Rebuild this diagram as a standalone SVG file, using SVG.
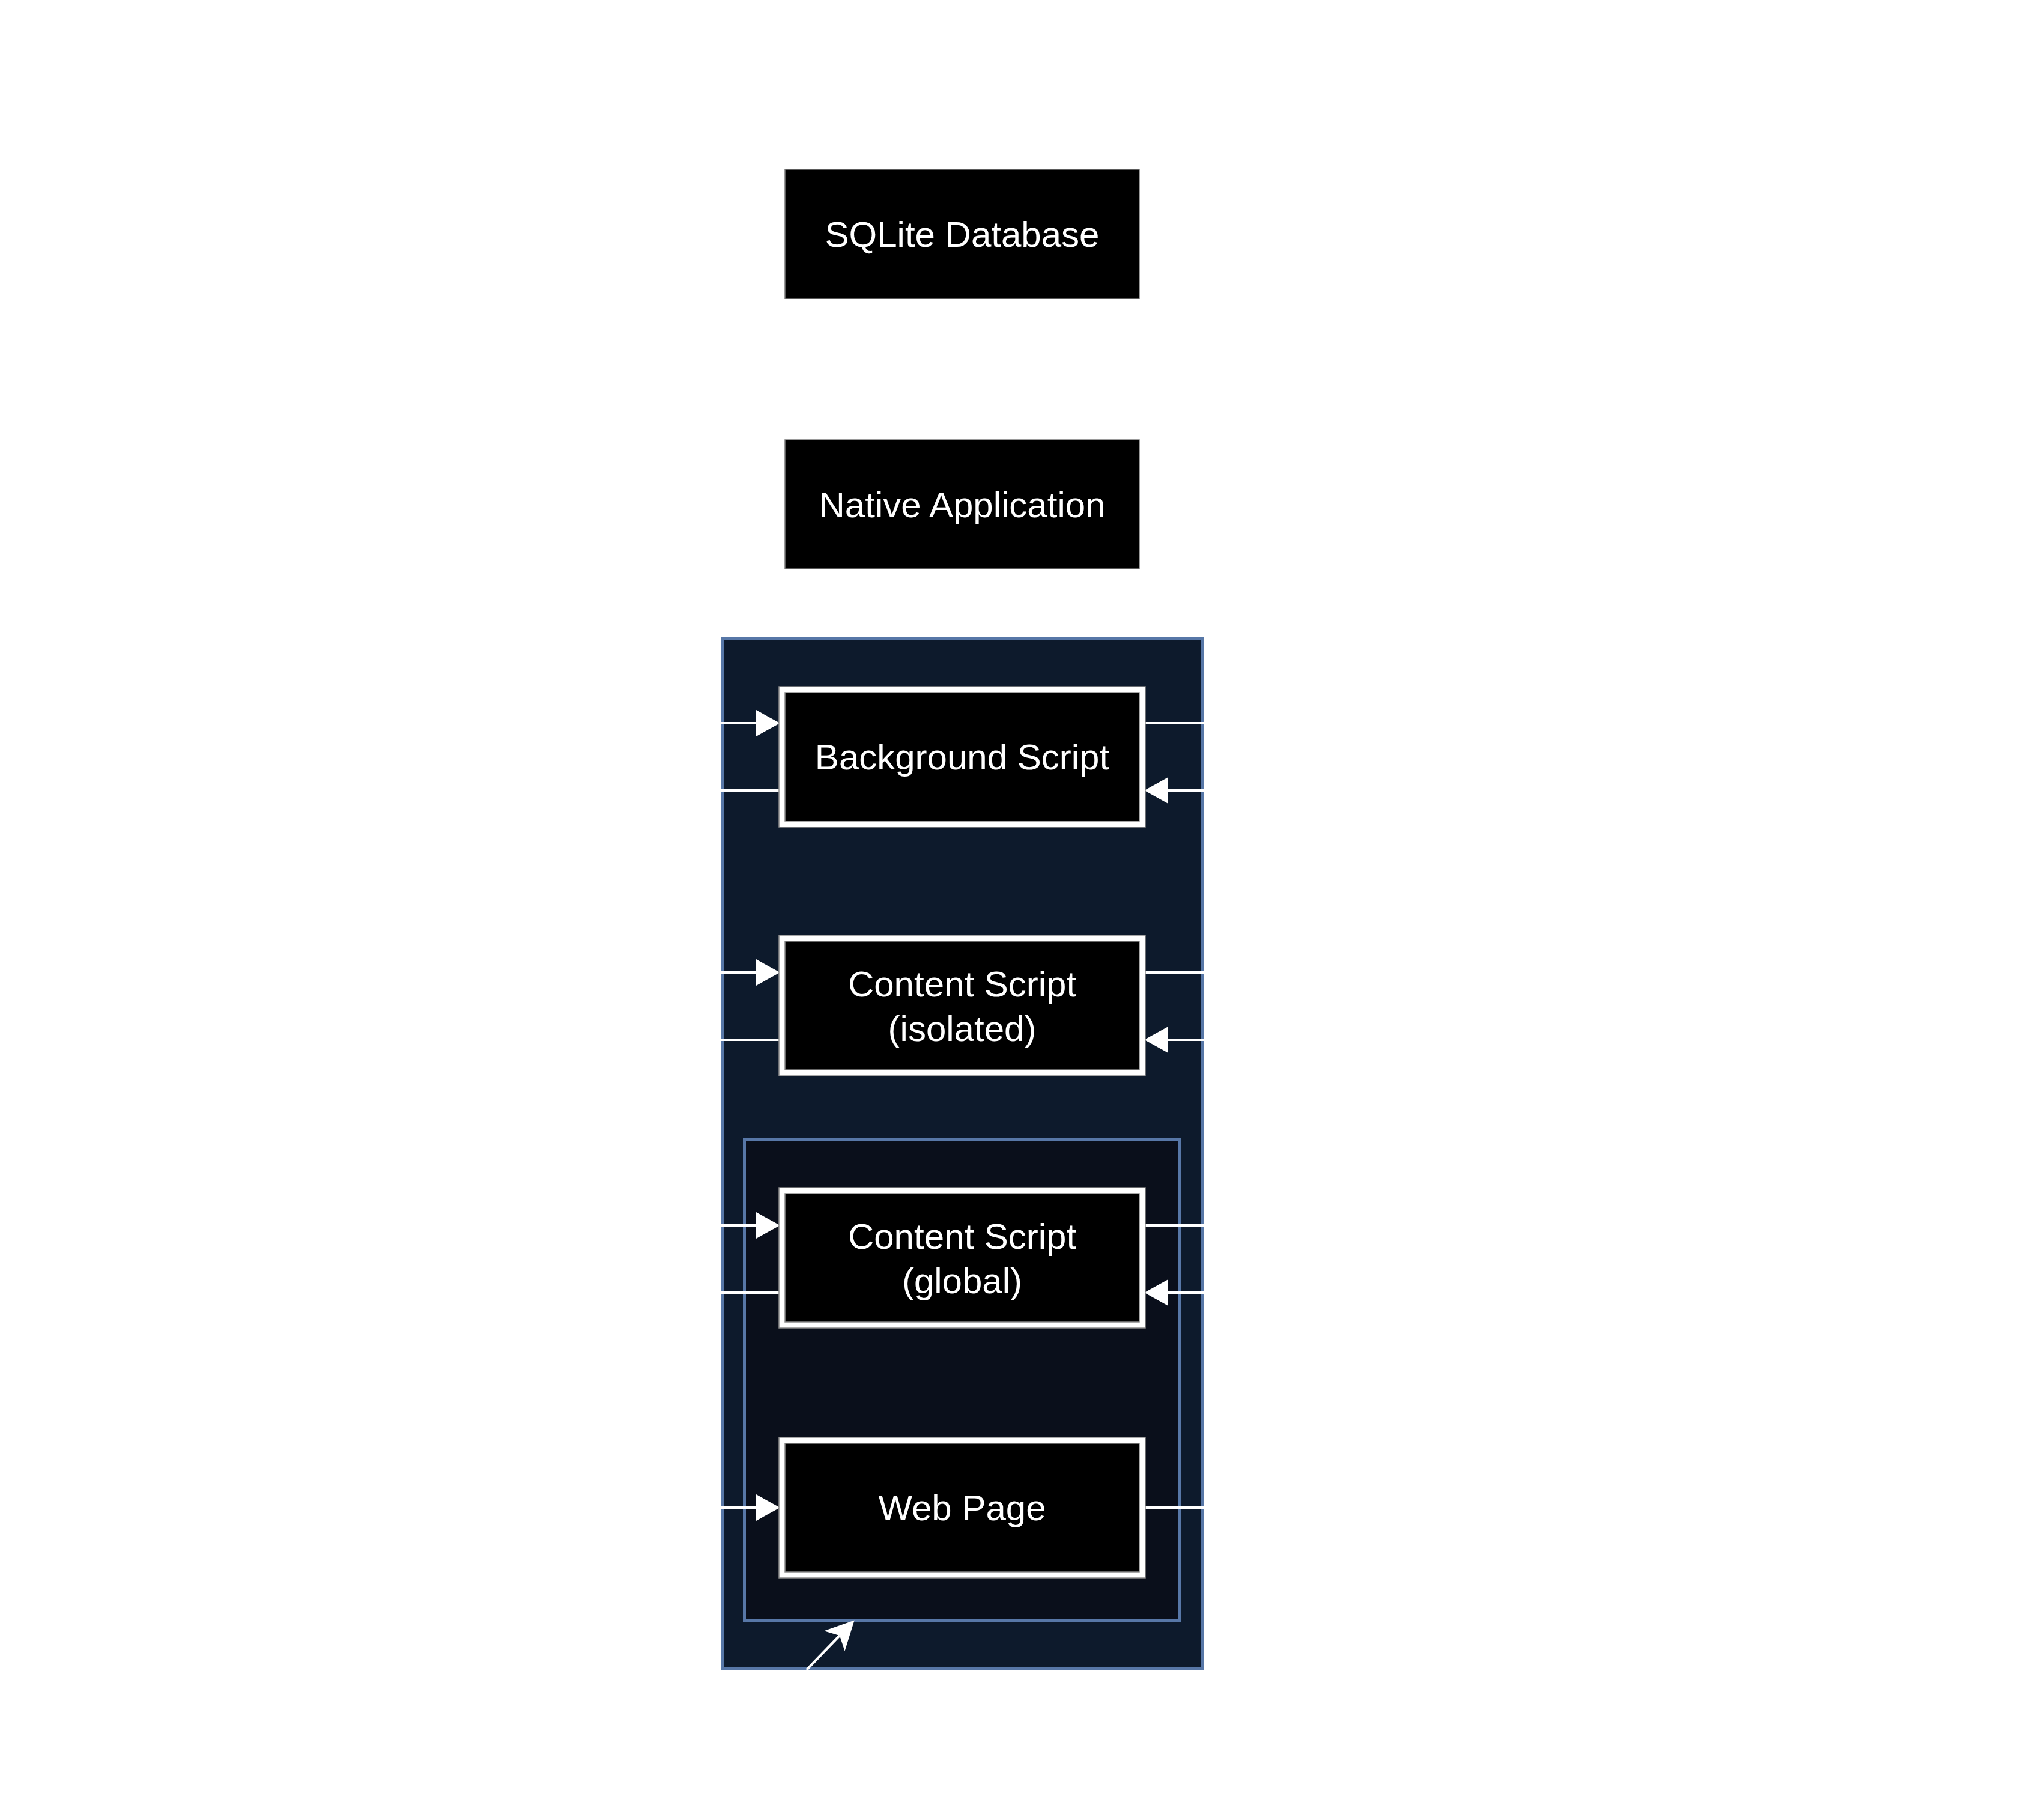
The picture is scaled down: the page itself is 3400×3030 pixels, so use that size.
<svg xmlns="http://www.w3.org/2000/svg" width="3400" height="3030" viewBox="0 0 3400 3030">
  <style>
    .lbl { font-family: "Liberation Sans", Arial, Helvetica, sans-serif; font-size: 60px; fill: #ffffff; text-anchor: middle; }
    .plain { fill: #000000; stroke: #7a7a7a; stroke-width: 1.5; }
    .frame { fill: #ffffff; stroke: #8a8a8a; stroke-width: 1.5; }
    .core { fill: #000000; stroke: #8a8a8a; stroke-width: 1.5; }
    .outer { fill: #0d1a2c; stroke: #5777a7; stroke-width: 5; }
    .inner { fill: #0a0f1b; stroke: #5777a7; stroke-width: 5; }
    .edge { fill: none; stroke: #ffffff; stroke-width: 4; }
  </style>
  <defs>
    <marker id="block" markerUnits="userSpaceOnUse" markerWidth="40" markerHeight="44" viewBox="0 0 38 42" refX="3" refY="21" orient="auto">
      <path d="M0,0 L38,21 L0,42 z" fill="#ffffff"/>
    </marker>
    <marker id="classic" markerUnits="userSpaceOnUse" markerWidth="48" markerHeight="48" viewBox="0 0 46 46" refX="12" refY="23" orient="auto">
      <path d="M0,0 L46,23 L0,46 L12,23 z" fill="#ffffff"/>
    </marker>
  </defs>
  <rect x="0" y="0" width="3400" height="3030" fill="#ffffff"/>

  <g id="sqlite-database">
    <rect class="plain" x="1307" y="282" width="590" height="215"/>
    <text class="lbl" x="1602" y="411">SQLite Database</text>
  </g>

  <g id="native-application">
    <rect class="plain" x="1307" y="732" width="590" height="215"/>
    <text class="lbl" x="1602" y="861">Native Application</text>
  </g>

  <g id="extension-container">
    <rect class="outer" x="1202.5" y="1062.5" width="800" height="1715"/>
  </g>

  <g id="page-container">
    <rect class="inner" x="1239.5" y="1897.5" width="725" height="800"/>
  </g>

  <g id="connectors">
    <!-- Background Script -->
    <line class="edge" x1="1200" y1="1204" x2="1262" y2="1204" marker-end="url(#block)"/>
    <line class="edge" x1="1297" y1="1316" x2="1200" y2="1316"/>
    <line class="edge" x1="1907" y1="1204" x2="2005" y2="1204"/>
    <line class="edge" x1="2005" y1="1316" x2="1942" y2="1316" marker-end="url(#block)"/>
    <!-- Content Script (isolated) -->
    <line class="edge" x1="1200" y1="1619" x2="1262" y2="1619" marker-end="url(#block)"/>
    <line class="edge" x1="1297" y1="1731" x2="1200" y2="1731"/>
    <line class="edge" x1="1907" y1="1619" x2="2005" y2="1619"/>
    <line class="edge" x1="2005" y1="1731" x2="1942" y2="1731" marker-end="url(#block)"/>
    <!-- Content Script (global) -->
    <line class="edge" x1="1200" y1="2040" x2="1262" y2="2040" marker-end="url(#block)"/>
    <line class="edge" x1="1297" y1="2152" x2="1200" y2="2152"/>
    <line class="edge" x1="1907" y1="2040" x2="2005" y2="2040"/>
    <line class="edge" x1="2005" y1="2152" x2="1942" y2="2152" marker-end="url(#block)"/>
    <!-- Web Page -->
    <line class="edge" x1="1200" y1="2510" x2="1262" y2="2510" marker-end="url(#block)"/>
    <line class="edge" x1="1907" y1="2510" x2="2005" y2="2510"/>
    <!-- diagonal into page container -->
    <line class="edge" x1="1343" y1="2780" x2="1398" y2="2723" marker-end="url(#classic)"/>
  </g>

  <g id="background-script">
    <rect class="frame" x="1297" y="1143" width="610" height="234"/>
    <rect class="core" x="1307" y="1153" width="590" height="214"/>
    <text class="lbl" x="1602" y="1281">Background Script</text>
  </g>

  <g id="content-script-isolated">
    <rect class="frame" x="1297" y="1557" width="610" height="234"/>
    <rect class="core" x="1307" y="1567" width="590" height="214"/>
    <text class="lbl" x="1602" y="1659">Content Script</text>
    <text class="lbl" x="1602" y="1733">(isolated)</text>
  </g>

  <g id="content-script-global">
    <rect class="frame" x="1297" y="1977" width="610" height="234"/>
    <rect class="core" x="1307" y="1987" width="590" height="214"/>
    <text class="lbl" x="1602" y="2079">Content Script</text>
    <text class="lbl" x="1602" y="2153">(global)</text>
  </g>

  <g id="web-page">
    <rect class="frame" x="1297" y="2393" width="610" height="234"/>
    <rect class="core" x="1307" y="2403" width="590" height="214"/>
    <text class="lbl" x="1602" y="2531">Web Page</text>
  </g>
</svg>
